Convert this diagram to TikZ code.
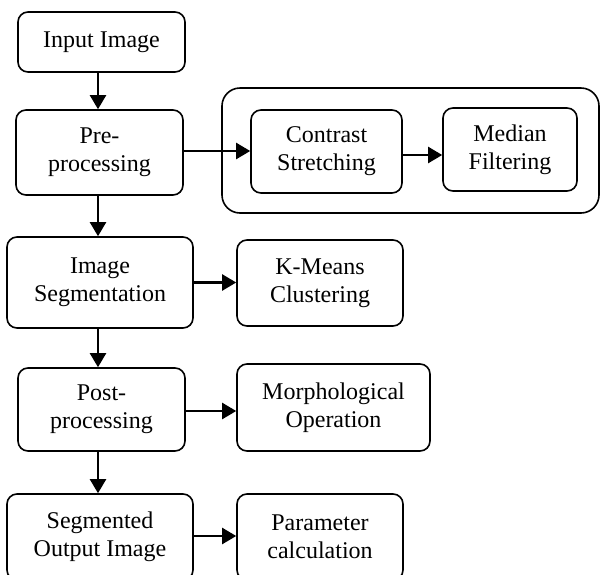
\documentclass[tikz,border=0pt]{standalone}
\usepackage{fontspec}
\setmainfont{Liberation Serif}
\usepackage{tikz}
\usetikzlibrary{arrows.meta, positioning, calc}

\begin{document}
\begin{tikzpicture}[
  x=1pt, y=-1pt,
  box/.style={draw, line width=1.6pt, rounded corners=10pt, align=center, inner sep=0pt,
    font=\fontsize{24}{28}\selectfont},
  bigbox/.style={draw, line width=1.6pt, rounded corners=18pt, inner sep=0pt},
  arr/.style={-{Triangle[length=14pt, width=16pt]}, line width=2.2pt},
]
  \clip (0,0) rectangle (600,574);

  % Main column
  \node[box, minimum width=167pt, minimum height=60pt] (input) at (101.5, 42) {Input Image};
  \node[box, minimum width=167pt, minimum height=85pt] (pre) at (99.5, 152.5) {Pre-\\processing};
  \node[box, minimum width=186pt, minimum height=91pt] (seg) at (100, 282.5) {Image\\Segmentation};
  \node[box, minimum width=167pt, minimum height=83pt] (post) at (101.5, 409.5) {Post-\\processing};
  \node[box, minimum width=186pt, minimum height=86pt] (segout) at (100, 537) {Segmented\\Output Image};

  % Pre-processing steps
  \node[bigbox, minimum width=377pt, minimum height=125pt] (prebox) at (410.5, 150.5) {};
  \node[box, minimum width=151pt, minimum height=83pt] (contrast) at (326.5, 151.5) {Contrast\\Stretching};
  \node[box, minimum width=134pt, minimum height=83pt] (median) at (510, 149.5) {Median\\Filtering};

  % Side column
  \node[box, minimum width=166pt, minimum height=86pt] (kmeans) at (320, 283) {K-Means\\Clustering};
  \node[box, minimum width=193pt, minimum height=87pt] (morph) at (333.5, 407.5) {Morphological\\Operation};
  \node[box, minimum width=166pt, minimum height=86pt] (param) at (320, 537) {Parameter\\calculation};

  % Arrows
  \draw[arr] ($(input.south)+(-3.5,0)$) -- ($(input.south |- pre.north)+(-3.5,0)$);
  \draw[arr] ($(pre.south)+(-1.5,0)$) -- ($(pre.south |- seg.north)+(-1.5,0)$);
  \draw[arr] ($(seg.south)+(-2,0)$) -- ($(seg.south |- post.north)+(-2,0)$);
  \draw[arr] ($(post.south)+(-3.5,0)$) -- ($(post.south |- segout.north)+(-3.5,0)$);
  \draw[arr] ($(pre.east)+(0,-1.5)$) -- ($(pre.east -| contrast.west)+(0,-1.5)$);
  \draw[arr] ($(contrast.east)+(0,3.5)$) -- ($(contrast.east -| median.west)+(0,3.5)$);
  \draw[arr] (seg.east) -- (seg.east -| kmeans.west);
  \draw[arr] ($(post.east)+(0,1.5)$) -- ($(post.east -| morph.west)+(0,1.5)$);
  \draw[arr] ($(segout.east)+(0,-1)$) -- ($(segout.east -| param.west)+(0,-1)$);
\end{tikzpicture}
\end{document}
